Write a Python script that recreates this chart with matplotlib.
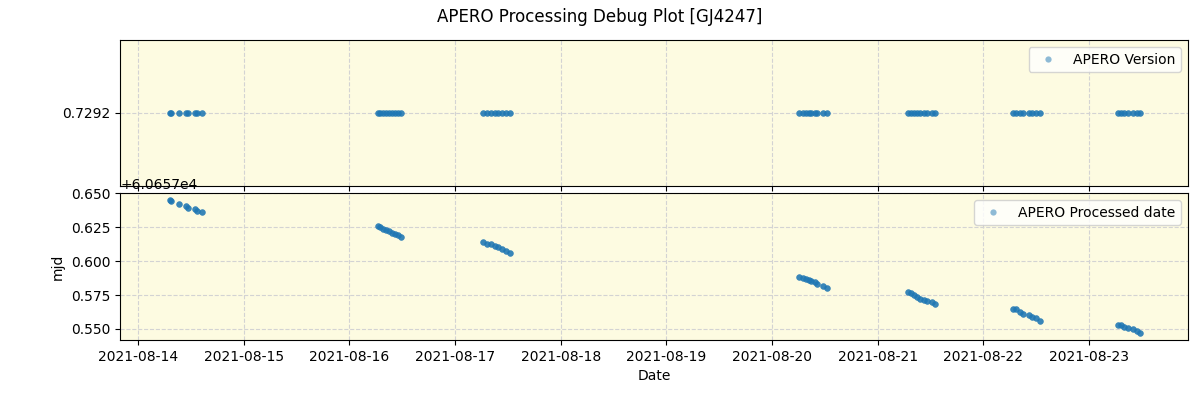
import matplotlib
matplotlib.use("Agg")
import matplotlib.pyplot as plt
import matplotlib.dates as mdates
import numpy as np
import datetime as dt

# Observation days and fractional times within each night
obs_days = ["2021-08-14", "2021-08-16", "2021-08-17", "2021-08-20",
            "2021-08-21", "2021-08-22", "2021-08-23"]
obs_frac = [
    [0.303, 0.310, 0.391, 0.454, 0.476, 0.539, 0.561, 0.608],
    [0.268, 0.295, 0.322, 0.349, 0.376, 0.403, 0.430, 0.458, 0.485],
    [0.268, 0.305, 0.345, 0.380, 0.410, 0.445, 0.480, 0.520],
    [0.257, 0.290, 0.320, 0.350, 0.365, 0.405, 0.430, 0.485, 0.525],
    [0.287, 0.315, 0.345, 0.375, 0.405, 0.440, 0.470, 0.510, 0.541],
    [0.281, 0.310, 0.345, 0.380, 0.430, 0.460, 0.500, 0.533],
    [0.274, 0.300, 0.335, 0.370, 0.420, 0.450, 0.480],
]
# APERO processed date (MJD)
proc_mjd = [
    [60657.6452, 60657.6445, 60657.6419, 60657.6406, 60657.6389, 60657.6387, 60657.6367, 60657.6361],
    [60657.6258, 60657.6249, 60657.6239, 60657.6229, 60657.6219, 60657.6209, 60657.6199, 60657.6189, 60657.6180],
    [60657.6139, 60657.6129, 60657.6125, 60657.6112, 60657.6102, 60657.6088, 60657.6076, 60657.6061],
    [60657.5883, 60657.5875, 60657.5866, 60657.5858, 60657.5852, 60657.5843, 60657.5828, 60657.5818, 60657.5801],
    [60657.5772, 60657.5762, 60657.5751, 60657.5735, 60657.5722, 60657.5716, 60657.5705, 60657.5697, 60657.5685],
    [60657.5648, 60657.5645, 60657.5625, 60657.5612, 60657.5602, 60657.5590, 60657.5578, 60657.5561],
    [60657.5530, 60657.5528, 60657.5515, 60657.5505, 60657.5501, 60657.5485, 60657.5468],
]
apero_version = 0.7292
files_per_obs = 3  # several output files per observation share the same values

x_dates = []
y_proc = []
for day, fr, pm in zip(obs_days, obs_frac, proc_mjd):
    base = dt.datetime.strptime(day, "%Y-%m-%d")
    for f, p in zip(fr, pm):
        for _ in range(files_per_obs):
            x_dates.append(base + dt.timedelta(days=f))
            y_proc.append(p)
y_ver = [apero_version] * len(x_dates)

bg = "#fdfbe1"
fig = plt.figure(figsize=(12, 4), dpi=100)
ax1 = fig.add_axes([0.1, 0.535, 0.89, 0.365])
ax2 = fig.add_axes([0.1, 0.15, 0.89, 0.3675], sharex=ax1)
for ax in (ax1, ax2):
    ax.set_facecolor(bg)
    ax.grid(True, linestyle="--", color="lightgray", linewidth=0.8)
    ax.set_axisbelow(True)

style = dict(linestyle="none", marker="o", color="#1f77b4", ms=4.5, mew=0, alpha=0.5)
ax1.plot(x_dates, y_ver, label="APERO Version", **style)
ax1.set_yticks([apero_version])
ax1.set_yticklabels(["0.7292"])
ax1.legend(loc="upper right")
plt.setp(ax1.get_xticklabels(), visible=False)

ax2.plot(x_dates, y_proc, label="APERO Processed date", **style)
ax2.set_ylabel("mjd")
ax2.set_xlabel("Date")
ax2.legend(loc="upper right")

ax2.xaxis.set_major_locator(mdates.DayLocator())
ax2.xaxis.set_major_formatter(mdates.DateFormatter("%Y-%m-%d"))
ax2.set_xlim(dt.datetime(2021, 8, 14) - dt.timedelta(days=0.17),
             dt.datetime(2021, 8, 23) + dt.timedelta(days=0.937))

fig.suptitle("APERO Processing Debug Plot [GJ4247]", fontsize=12, y=0.98)
fig.savefig("out.png", dpi=100)
